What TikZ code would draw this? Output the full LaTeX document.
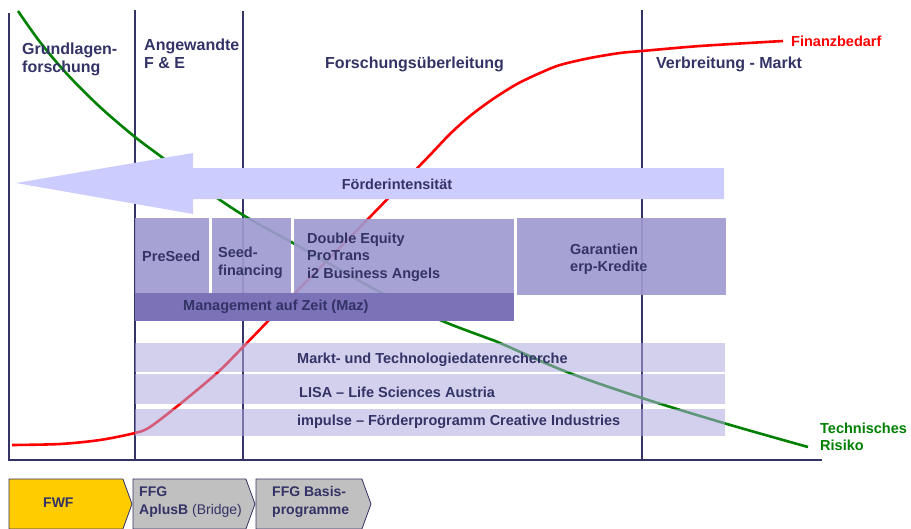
\documentclass[tikz,border=0pt]{standalone}
\usepackage{fontspec}
\setmainfont{Liberation Sans}
\usetikzlibrary{shapes.symbols}
\definecolor{navy}{HTML}{333366}
\definecolor{arrowblue}{HTML}{CCCCFF}
\definecolor{boxpurple}{HTML}{A09AD0}
\definecolor{mazpurple}{HTML}{7B72B8}
\definecolor{barpurple}{HTML}{AFA9E0}
\definecolor{fwfyellow}{HTML}{FFCC00}
\definecolor{ffggray}{HTML}{C0C0C0}
\definecolor{riskgreen}{HTML}{008000}
\tikzset{
  phaseline/.style={navy, line width=1.8pt},
  head/.style={font=\bfseries\fontsize{16}{18}\selectfont, text=navy, inner sep=0pt, align=left, anchor=west},
  lbl/.style={font=\bfseries\fontsize{14.5}{17.5}\selectfont, text=navy, inner sep=0pt, align=left, anchor=west},
  upbox/.style={fill=boxpurple, fill opacity=0.92, draw=none, inner sep=0pt, outer sep=0pt, anchor=north west},
  lowbar/.style={fill=barpurple, fill opacity=0.55, draw=none, inner sep=0pt, outer sep=0pt, anchor=north west},
  chev/.style={shape=signal, signal to=east, signal from=nowhere, signal pointer angle=140, draw=navy, line width=0.8pt, inner sep=0pt, outer sep=0pt, minimum height=50pt, anchor=west},
}
\begin{document}
\begin{tikzpicture}[x=1pt,y=-1pt]
\useasboundingbox (0,0) rectangle (911,528);
% phase lines and axis
\draw[phaseline] (9,13) -- (9,460) -- (822,460);
\draw[phaseline] (135,10) -- (135,460);
\draw[phaseline] (243,11) -- (243,460);
\draw[phaseline] (642,10) -- (642,460);
% curves
\draw[red, line width=2.6pt] plot[smooth, tension=0.5] coordinates {(12,445) (60,444) (100,440) (135,433) (150,427) (180,404) (217,373) (243,347) (300,288) (367,220) (400,186) (430,155) (450,134) (470,116) (493,99) (517,84) (540,73) (560,65) (590,58) (620,53) (642,51) (700,46) (783,41)};
\draw[riskgreen, line width=2.6pt] plot[smooth, tension=0.55] coordinates {(18,11) (40,42) (67,74) (100,107) (135,137) (163,158) (200,186) (243,215) (293,243) (380,292) (440,320) (487,338) (500,343) (567,372) (642,398) (727,424) (808,447)};
% arrow
\fill[arrowblue] (16,183) -- (193,153) -- (193,168) -- (724,168) -- (724,199) -- (193,199) -- (193,214) -- cycle;
\node[lbl, anchor=center] (fi) at (397,184) {Förderintensität};
% headers
\node[head] (h1) at (22,59) {Grundlagen-\\forschung};
\node[head] (h2) at (144,54) {Angewandte\\F \& E};
\node[head] (h3) at (325,64) {Forschungsüberleitung};
\node[head] (h4) at (656,64) {Verbreitung - Markt};
% upper boxes
\node[upbox, minimum width=74pt, minimum height=75pt] (b1) at (135,218) {};
\node[upbox, minimum width=79pt, minimum height=75pt] (b2) at (212,218) {};
\node[upbox, minimum width=220pt, minimum height=74pt] (b3) at (294,219) {};
\node[upbox, minimum width=209pt, minimum height=77pt] (b4) at (517,218) {};
\node[fill=mazpurple, inner sep=0pt, outer sep=0pt, anchor=north west, minimum width=379pt, minimum height=28pt] (maz) at (135,293) {};
\node[lbl] (t1) at (142,256) {PreSeed};
\node[lbl] (t2) at (218,263) {Seed-\\financing};
\node[lbl] (t3) at (307,257) {Double Equity\\ProTrans\\i2 Business Angels};
\node[lbl] (t4) at (570,259) {Garantien\\erp-Kredite};
\node[lbl] (tmaz) at (183,307) {Management auf Zeit (Maz)};
% lower bars
\node[lowbar, minimum width=590pt, minimum height=29pt] (l1) at (135,343) {};
\node[lowbar, minimum width=590pt, minimum height=30pt] (l2) at (135,374) {};
\node[lowbar, minimum width=590pt, minimum height=27pt] (l3) at (135,409) {};
\node[lbl] (tl1) at (297,360) {Markt- und Technologiedatenrecherche};
\node[lbl] (tl2) at (299,392) {LISA – Life Sciences Austria};
\node[lbl] (tl3) at (297,422) {impulse – Förderprogramm Creative Industries};
% curve labels
\node[lbl, text=red] (fb) at (791,41) {Finanzbedarf};
\node[lbl, text=riskgreen] (tr) at (820,437) {Technisches\\Risiko};
% bottom chevrons
\node[chev, fill=fwfyellow, minimum width=123pt] (fwf) at (9,504) {};
\node[chev, fill=ffggray, minimum width=122pt] (aplusb) at (133,504) {};
\node[chev, fill=ffggray, minimum width=115pt] (basis) at (256,504) {};
\node[lbl, font=\bfseries\fontsize{14}{17.5}\selectfont] (tfwf) at (43,503) {FWF};
\node[lbl, font=\bfseries\fontsize{14}{17.5}\selectfont] (tab) at (139,502) {FFG\\AplusB {\mdseries (Bridge)}};
\node[lbl, font=\bfseries\fontsize{14}{17.5}\selectfont] (tbas) at (272,502) {FFG Basis-\\programme};
\end{tikzpicture}
\end{document}
